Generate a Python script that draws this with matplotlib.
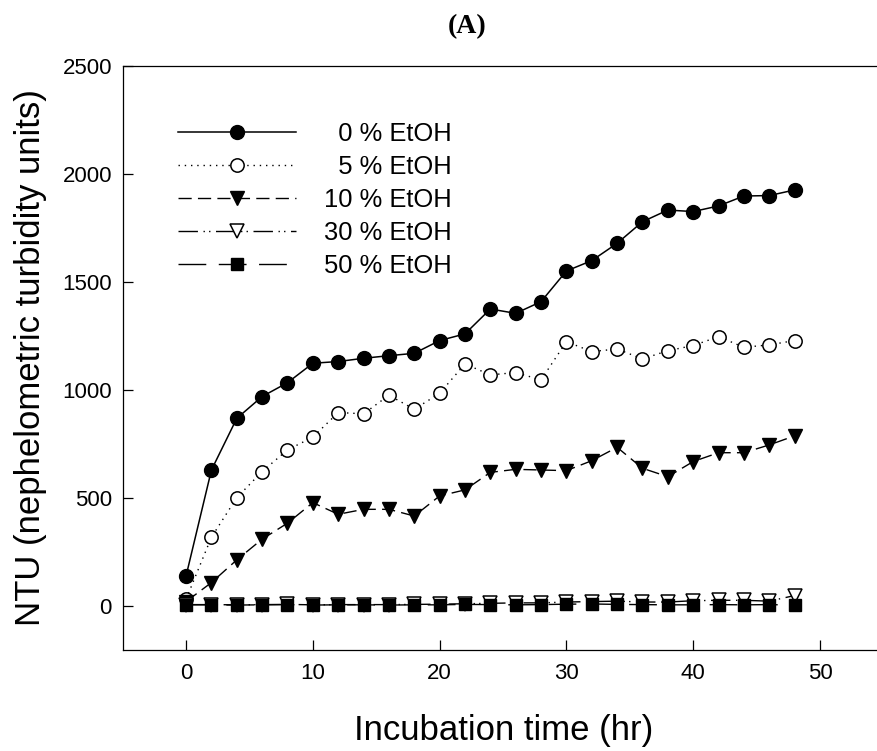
import matplotlib
matplotlib.use("Agg")
import matplotlib.pyplot as plt

plt.rcParams['font.family'] = ['Liberation Sans', 'DejaVu Sans']

# incubation time (hr)
hours = [0, 2, 4, 6, 8, 10, 12, 14, 16, 18, 20, 22, 24,
         26, 28, 30, 32, 34, 36, 38, 40, 42, 44, 46, 48]

# NTU
etoh_0 = [139, 629, 868, 969, 1033, 1123, 1131, 1146, 1158, 1169, 1228, 1259, 1374,
          1354, 1408, 1550, 1598, 1678, 1778, 1832, 1825, 1851, 1897, 1899, 1925]
etoh_5 = [31, 318, 501, 622, 722, 781, 895, 889, 975, 910, 984, 1120, 1069,
          1080, 1046, 1223, 1177, 1189, 1143, 1181, 1205, 1246, 1197, 1208, 1228]
etoh_10 = [20, 108, 213, 309, 383, 478, 424, 447, 447, 416, 509, 537, 618,
           632, 629, 626, 672, 734, 637, 598, 668, 709, 709, 745, 787]
etoh_30 = [6, 6, 5, 6, 7, 5, 6, 6, 6, 7, 8, 10, 12,
           14, 14, 18, 20, 22, 18, 18, 24, 26, 26, 22, 48]
etoh_50 = [5, 5, 4, 5, 6, 4, 5, 5, 4, 5, 5, 7, 6,
           5, 6, 8, 9, 7, 6, 5, 5, 6, 5, 6, 4]

labels = ['  0 % EtOH', '  5 % EtOH', '10 % EtOH', '30 % EtOH', '50 % EtOH']

fig = plt.figure(figsize=(8.77, 7.51), dpi=100)
ax = fig.add_axes([0.1399, 0.1345, 0.8601, 0.778])

ax.plot(hours, etoh_0, color='black', lw=1.1, ls='-', marker='o', ms=10,
        mfc='black', mec='black', label=labels[0])
ax.plot(hours, etoh_5, color='black', lw=1.0, ls=(0, (1, 3.5)), marker='o', ms=9.6,
        mfc='white', mec='black', mew=1.1, label=labels[1])
ax.plot(hours, etoh_10, color='black', lw=1.0, ls=(0, (9.5, 4.5)), marker='v', ms=9.5,
        mfc='black', mec='black', label=labels[2])
ax.plot(hours, etoh_30, color='black', lw=1.0, ls=(0, (14, 4, 1, 3, 1, 4)), marker='v', ms=9.5,
        mfc='white', mec='black', mew=1.1, label=labels[3])
ax.plot(hours, etoh_50, color='black', lw=1.0, ls=(0, (20, 9)), marker='s', ms=8.6,
        mfc='black', mec='black', label=labels[4])

ax.set_xlim(-5, 54.5)
ax.set_ylim(-204, 2500)
ax.set_xticks([0, 10, 20, 30, 40, 50])
ax.set_yticks([0, 500, 1000, 1500, 2000, 2500])

ax.spines['right'].set_visible(False)
for s in ['top', 'left', 'bottom']:
    ax.spines[s].set_linewidth(0.9)
ax.tick_params(axis='both', direction='in', length=7, width=0.9, labelsize=16)
ax.tick_params(axis='x', pad=9.5)
ax.tick_params(axis='y', pad=7.7)

ax.set_xlabel('Incubation time (hr)', fontsize=25)
ax.set_ylabel('NTU (nephelometric turbidity units)', fontsize=25)
ax.xaxis.set_label_coords(0.5055, -0.110)
ax.yaxis.set_label_coords(-0.100, 0.5)

ax.legend(loc='upper left', bbox_to_anchor=(0.0733, 0.903), frameon=False,
          fontsize=18.4, handlelength=4.63, handletextpad=1.1, labelspacing=0.35,
          borderpad=0, borderaxespad=0)

fig.text(467 / 877, 0.964, '(A)', ha='center', va='center', fontsize=20,
         fontweight='bold', family=['Liberation Serif', 'DejaVu Serif'])

fig.savefig('out.png', dpi=100)
